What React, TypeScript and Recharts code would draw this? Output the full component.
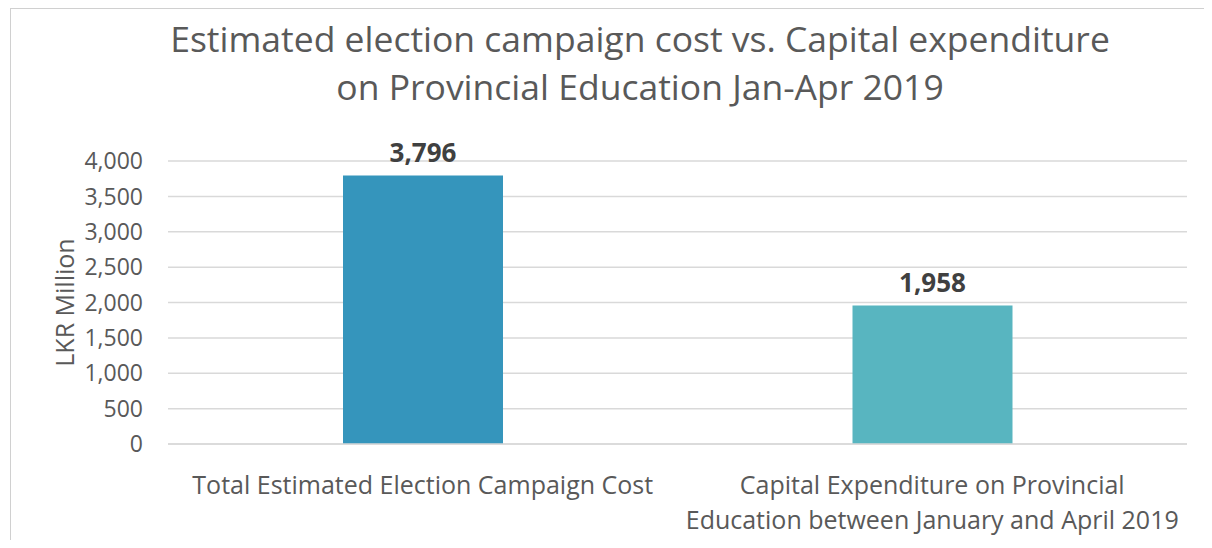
import React from "react";
import { BarChart, Bar, XAxis, YAxis, CartesianGrid, LabelList } from "recharts";

// ---------------------------------------------------------------------------
// Data
// ---------------------------------------------------------------------------

const categories = [
  "Total Estimated Election Campaign Cost",
  "Capital Expenditure on Provincial Education between January and April 2019",
];
const values = [3796, 1958];
const barColors = ["#3595BC", "#58B5C0"];
const yTicks = [0, 500, 1000, 1500, 2000, 2500, 3000, 3500, 4000];

const titleLines = [
  "Estimated election campaign cost vs. Capital expenditure",
  "on Provincial Education Jan-Apr 2019",
];

const data = categories.map((name, i) => ({ name, value: values[i], fill: barColors[i] }));

const FONT = "'Open Sans', 'Noto Sans', sans-serif";
const fmt = (v: number) => v.toLocaleString("en-US");

// simple word wrap for the category labels
function wrap(text: string, max: number): string[] {
  const lines: string[] = [];
  let cur = "";
  for (const w of text.split(" ")) {
    const next = cur ? cur + " " + w : w;
    if (next.length > max && cur) {
      lines.push(cur);
      cur = w;
    } else {
      cur = next;
    }
  }
  if (cur) lines.push(cur);
  return lines;
}

function CategoryTick({ x, y, payload }: any) {
  const lines = wrap(payload.value, 42);
  return (
    <text x={x} y={y} textAnchor="middle" fill="#595959" fontSize={25} fontFamily={FONT}>
      {lines.map((l, i) => (
        <tspan key={i} x={x} dy={i === 0 ? 42 : 35}>
          {l}
        </tspan>
      ))}
    </text>
  );
}

export default function App() {
  return (
    <div style={{ position: "relative", width: 1212, height: 548, margin: -8, overflow: "hidden", background: "#fff" }}>
      <div
        style={{
          position: "absolute",
          left: 10,
          top: 8,
          width: 1240,
          height: 580,
          border: "1.5px solid #D0D0D0",
          boxSizing: "border-box",
        }}
      />
      <div
        style={{
          position: "absolute",
          left: 640,
          top: 14,
          transform: "translateX(-50%)",
          whiteSpace: "nowrap",
          textAlign: "center",
          fontFamily: FONT,
          fontSize: 35.5,
          lineHeight: "48px",
          color: "#595959",
        }}
      >
        {titleLines.map((t) => (
          <div key={t}>{t}</div>
        ))}
      </div>
      <div style={{ position: "absolute", left: 0, top: 0 }}>
        <BarChart
          width={1212}
          height={548}
          data={data}
          margin={{ top: 161, right: 25, left: 0, bottom: 44 }}
          barSize={160}
        >
          <CartesianGrid vertical={false} stroke="#D9D9D9" strokeWidth={1.5} />
          <XAxis
            dataKey="name"
            axisLine={{ stroke: "#D9D9D9", strokeWidth: 1.5 }}
            tickLine={false}
            interval={0}
            height={60}
            tick={<CategoryTick />}
          />
          <YAxis
            width={168}
            domain={[0, 4000]}
            ticks={yTicks}
            axisLine={false}
            tickLine={false}
            tickSize={0}
            tickMargin={25}
            tickFormatter={fmt}
            tick={{ fill: "#595959", fontSize: 23, fontFamily: FONT }}
            label={{
              value: "LKR Million",
              angle: -90,
              position: "insideLeft",
              dx: 60,
              fill: "#595959",
              fontSize: 25,
              fontFamily: FONT,
              style: { textAnchor: "middle" },
            }}
          />
          <Bar dataKey="value" isAnimationActive={false}>
            <LabelList
              dataKey="value"
              position="top"
              offset={13}
              formatter={(v: any) => fmt(Number(v))}
              fill="#404040"
              fontSize={26}
              fontWeight="bold"
              fontFamily={FONT}
            />
          </Bar>
        </BarChart>
      </div>
    </div>
  );
}
